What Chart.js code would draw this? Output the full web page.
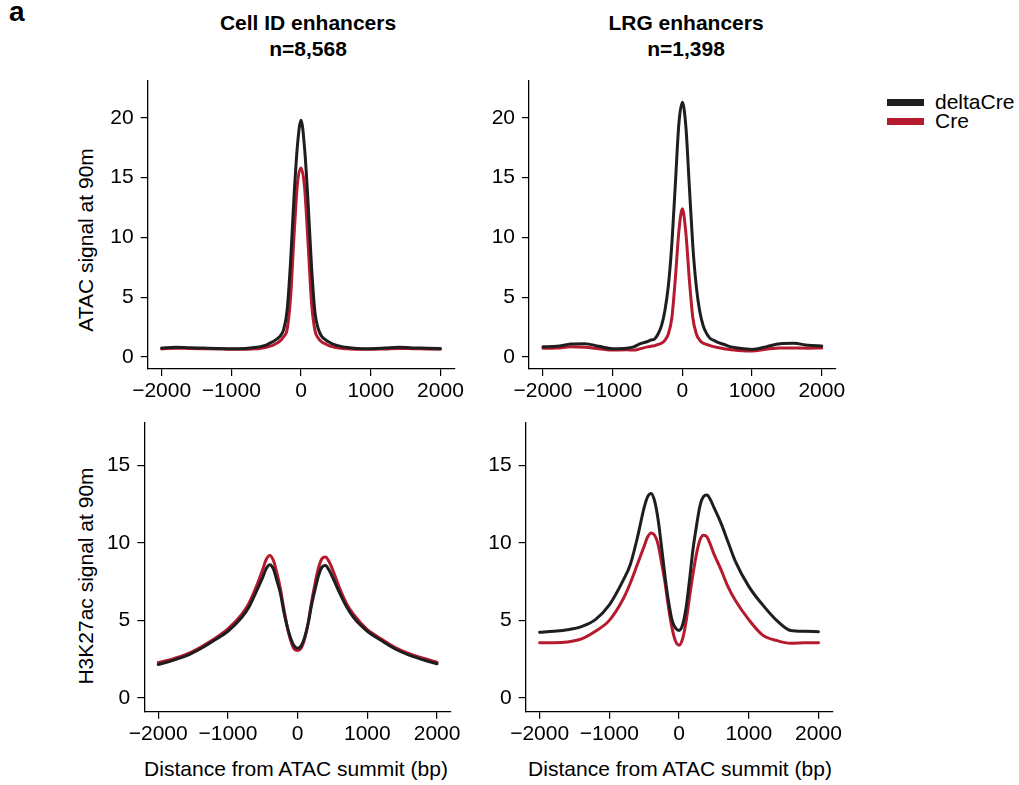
<!DOCTYPE html>
<html>
<head>
<meta charset="utf-8">
<script src="https://cdn.jsdelivr.net/npm/chart.js@4.4.1/dist/chart.umd.min.js"></script>
<style>
  body { margin: 0; background: #fff; }
  #wrap { position: relative; width: 1019px; height: 785px; overflow: hidden;
          font-family: "Liberation Sans", Arial, sans-serif; color: #000; }
  canvas.panel { position: absolute; }
  .txt { position: absolute; white-space: nowrap; }
  .ttl { font-weight: bold; font-size: 21px; line-height: 26.5px; text-align: center;
         transform: translateX(-50%); }
  .ylab { font-size: 21px; transform: translate(-50%, -50%) rotate(-90deg); }
  .xlab { font-size: 21px; transform: translate(-50%, -50%); }
  .bar { position: absolute; width: 37px; height: 7px; }
  .leg { font-size: 21px; line-height: 19px; }
</style>
</head>
<body>
<div id="wrap">
  <div class="txt" style="left:9px;top:-4px;font-weight:bold;font-size:28px;">a</div>

  <div class="txt ttl" style="left:308px;top:9.5px;">Cell ID enhancers<br>n=8,568</div>
  <div class="txt ttl" style="left:686px;top:9.5px;">LRG enhancers<br>n=1,398</div>

  <div class="txt ylab" style="left:86px;top:240px;">ATAC signal at 90m</div>
  <div class="txt ylab" style="left:86px;top:576px;">H3K27ac signal at 90m</div>
  <div class="txt xlab" style="left:296px;top:769px;">Distance from ATAC summit (bp)</div>
  <div class="txt xlab" style="left:680px;top:769px;">Distance from ATAC summit (bp)</div>

  <div class="bar" style="left:887px;top:98.5px;background:#1e1e1e;"></div>
  <div class="bar" style="left:887px;top:118px;background:#b51a2e;"></div>
  <div class="txt leg" style="left:935px;top:92px;">deltaCre</div>
  <div class="txt leg" style="left:935px;top:111px;">Cre</div>

  <canvas class="panel" id="atacCellId"></canvas>
  <canvas class="panel" id="atacLrg"></canvas>
  <canvas class="panel" id="h3CellId"></canvas>
  <canvas class="panel" id="h3Lrg"></canvas>
</div>

<script>
// distance from ATAC summit (bp), denser around the summit
const positions = [-2000, -1800, -1600, -1400, -1200, -1000, -800, -700, -600, -500, -450, -400, -350, -300, -250, -200, -150, -100, -50,
    0, 50, 100, 150, 200, 250, 300, 350, 400, 450, 500, 600, 700, 800, 1000, 1200, 1400, 1600, 1800, 2000];

const xTicks = [-2000, -1000, 0, 1000, 2000];
const atacTicks = [0, 5, 10, 15, 20];
const h3Ticks = [0, 5, 10, 15];

// ATAC, Cell ID enhancers
const atacCellDelta = [0.75, 0.82, 0.78, 0.75, 0.72, 0.7, 0.72, 0.78, 0.85, 1.0, 1.15, 1.3, 1.5, 1.75, 2.3, 3.9, 8.0, 13.5, 17.8,
    19.8, 17.5, 13.0, 7.6, 3.7, 2.3, 1.7, 1.45, 1.25, 1.1, 1.0, 0.85, 0.78, 0.72, 0.7, 0.75, 0.82, 0.76, 0.74, 0.72];
const atacCellCre = [0.68, 0.74, 0.72, 0.7, 0.68, 0.65, 0.65, 0.68, 0.72, 0.82, 0.9, 1.0, 1.15, 1.35, 1.7, 2.3, 5.0, 10.2, 14.6,
    15.8, 14.2, 9.6, 4.6, 2.2, 1.55, 1.25, 1.1, 0.95, 0.87, 0.8, 0.72, 0.68, 0.65, 0.65, 0.68, 0.72, 0.7, 0.68, 0.66];

// ATAC, LRG enhancers
const atacLrgDelta = [0.86, 0.9, 1.08, 1.12, 0.9, 0.7, 0.74, 0.85, 1.12, 1.3, 1.42, 1.5, 1.9, 2.6, 3.9, 6.0, 9.5, 14.5, 19.5,
    21.3, 19.3, 14.3, 9.3, 5.9, 3.8, 2.6, 1.95, 1.55, 1.4, 1.25, 1.05, 0.85, 0.75, 0.64, 0.85, 1.12, 1.15, 0.98, 0.92];
const atacLrgCre = [0.73, 0.75, 0.85, 0.82, 0.7, 0.58, 0.6, 0.58, 0.7, 0.85, 0.9, 0.95, 1.05, 1.15, 1.4, 1.95, 3.3, 6.6, 10.5,
    12.4, 10.4, 6.5, 3.3, 1.95, 1.4, 1.15, 1.05, 0.95, 0.87, 0.8, 0.7, 0.6, 0.55, 0.5, 0.65, 0.76, 0.75, 0.74, 0.76];

// H3K27ac, Cell ID enhancers
const h3CellDelta = [2.15, 2.4, 2.7, 3.15, 3.7, 4.3, 5.2, 5.85, 6.8, 7.8, 8.35, 8.6, 8.35, 7.6, 6.8, 5.6, 4.6, 3.85, 3.35,
    3.2, 3.35, 3.9, 4.8, 6.0, 7.0, 7.9, 8.45, 8.55, 8.25, 7.8, 6.8, 5.9, 5.2, 4.3, 3.7, 3.15, 2.75, 2.45, 2.2];
const h3CellCre = [2.28, 2.5, 2.8, 3.25, 3.8, 4.45, 5.4, 6.1, 7.1, 8.3, 8.95, 9.2, 8.9, 8.1, 7.1, 5.8, 4.6, 3.7, 3.15,
    3.05, 3.2, 3.8, 4.8, 6.2, 7.4, 8.4, 9.0, 9.1, 8.8, 8.3, 7.1, 6.1, 5.4, 4.4, 3.8, 3.25, 2.85, 2.55, 2.3];

// H3K27ac, LRG enhancers
const h3LrgDelta = [4.23, 4.3, 4.4, 4.6, 5.05, 6.0, 7.6, 8.6, 10.3, 12.3, 13.0, 13.2, 12.7, 11.5, 9.7, 7.8, 6.2, 5.0, 4.5,
    4.35, 4.7, 5.8, 7.6, 9.6, 11.1, 12.4, 13.0, 13.1, 12.8, 12.3, 11.3, 10.1, 8.9, 7.2, 6.0, 5.0, 4.35, 4.3, 4.27];
const h3LrgCre = [3.56, 3.55, 3.6, 3.8, 4.3, 5.0, 6.4, 7.4, 8.6, 9.8, 10.4, 10.65, 10.5, 9.9, 8.7, 7.4, 5.8, 4.5, 3.65,
    3.4, 3.8, 4.9, 6.5, 8.0, 9.3, 10.2, 10.5, 10.4, 9.9, 9.3, 8.3, 7.2, 6.35, 5.05, 4.05, 3.7, 3.52, 3.55, 3.56];

const BLACK = "#1e1e1e";
const RED = "#b51a2e";
const FONT = "'Liberation Sans', Arial, sans-serif";

// canvas placement and the plot box wanted inside the page
function makePanel(id, canvasBox, area, delta, cre, yMin, yMax, yTicks) {
    const el = document.getElementById(id);
    el.style.left = canvasBox.left + "px";
    el.style.top = canvasBox.top + "px";
    el.width = canvasBox.width;
    el.height = canvasBox.height;
    el.style.width = canvasBox.width + "px";
    el.style.height = canvasBox.height + "px";

    const yWidth = 60;
    const inLeft = area.left - canvasBox.left;
    const inTop = area.top - canvasBox.top;
    const inRight = area.right - canvasBox.left;
    const inBottom = area.bottom - canvasBox.top;
    const xHeight = canvasBox.height - inBottom;

    const pts = arr => positions.map((p, i) => ({ x: p, y: arr[i] }));

    return new Chart(el, {
        type: "line",
        data: {
            datasets: [
                { label: "deltaCre", data: pts(delta), borderColor: BLACK, borderWidth: 3 },
                { label: "Cre", data: pts(cre), borderColor: RED, borderWidth: 3 }
            ]
        },
        options: {
            responsive: false,
            animation: false,
            events: [],
            layout: {
                padding: { left: inLeft - yWidth, top: inTop, right: canvasBox.width - inRight, bottom: 0 }
            },
            elements: {
                point: { radius: 0 },
                line: { cubicInterpolationMode: "monotone", borderCapStyle: "round", borderJoinStyle: "round" }
            },
            plugins: { legend: { display: false }, tooltip: { enabled: false } },
            scales: {
                x: {
                    type: "linear",
                    min: -2200,
                    max: 2200,
                    afterBuildTicks: s => { s.ticks = xTicks.map(v => ({ value: v })); },
                    afterFit: s => { s.height = xHeight; s.paddingLeft = 0; s.paddingRight = 0; },
                    grid: { drawOnChartArea: false, drawTicks: true, tickLength: 7, color: "#000", lineWidth: 1.2 },
                    border: { display: true, color: "#000", width: 1.3 },
                    ticks: {
                        color: "#000",
                        padding: 3,
                        maxRotation: 0,
                        font: { family: FONT, size: 21 },
                        callback: v => String(v).replace("-", "\u2212")
                    }
                },
                y: {
                    type: "linear",
                    min: yMin,
                    max: yMax,
                    afterBuildTicks: s => { s.ticks = yTicks.map(v => ({ value: v })); },
                    afterFit: s => { s.width = yWidth; s.paddingTop = 0; s.paddingBottom = 0; },
                    grid: { drawOnChartArea: false, drawTicks: true, tickLength: 7, color: "#000", lineWidth: 1.2 },
                    border: { display: true, color: "#000", width: 1.3 },
                    ticks: {
                        color: "#000",
                        padding: 7,
                        font: { family: FONT, size: 21 },
                        callback: v => String(v)
                    }
                }
            }
        }
    });
}

makePanel("atacCellId", { left: 0, top: 60, width: 480, height: 350 },
    { left: 147.7, top: 80.7, right: 454.4, bottom: 369 }, atacCellDelta, atacCellCre, -1, 23.1, atacTicks);
makePanel("atacLrg", { left: 380, top: 60, width: 480, height: 350 },
    { left: 529, top: 80.7, right: 835.7, bottom: 369 }, atacLrgDelta, atacLrgCre, -1, 23.1, atacTicks);
makePanel("h3CellId", { left: 0, top: 400, width: 480, height: 350 },
    { left: 144.3, top: 422.3, right: 451, bottom: 711.7 }, h3CellDelta, h3CellCre, -0.9, 17.8, h3Ticks);
makePanel("h3Lrg", { left: 380, top: 400, width: 480, height: 350 },
    { left: 525.7, top: 422.3, right: 832.4, bottom: 711.7 }, h3LrgDelta, h3LrgCre, -0.9, 17.8, h3Ticks);
</script>
</body>
</html>
